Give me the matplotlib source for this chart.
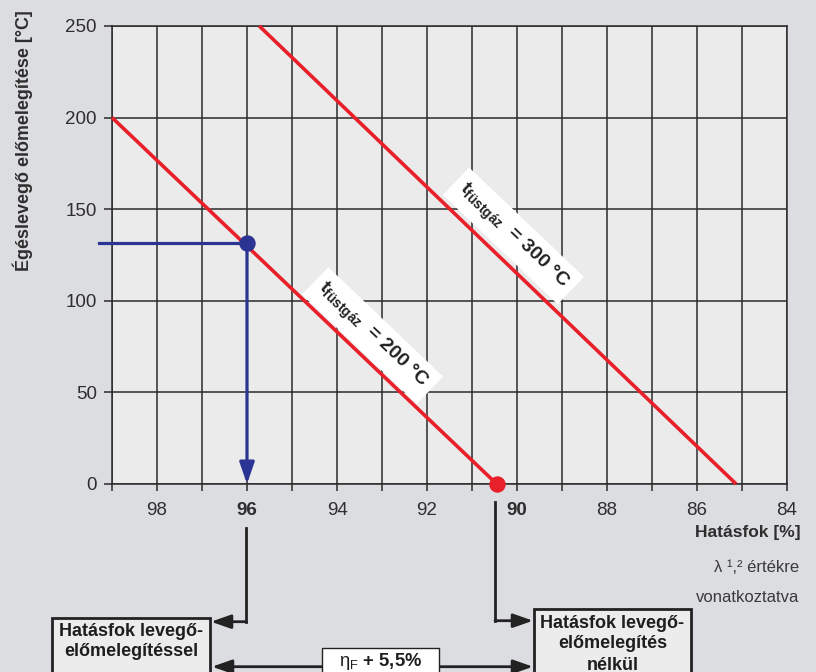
import math
import matplotlib
matplotlib.use("Agg")
import matplotlib.pyplot as plt
from matplotlib import font_manager as fm
from matplotlib.patches import Rectangle, FancyArrowPatch
from matplotlib.lines import Line2D

# ---------------- data ----------------
x_ticks = list(range(84, 100))
x_tick_labels = [str(v) if v % 2 == 0 else "" for v in x_ticks]
bold_x_ticks = ["96", "90"]
y_ticks = [0, 50, 100, 150, 200, 250]

line200_x = [99.0, 90.45]
line200_y = [200.0, 0.0]
line300_x = [95.73, 85.13]
line300_y = [250.0, 0.0]

blue_h_x = [99.3, 96.0]
blue_h_y = [131.6, 131.6]
point_with_x = [96.0]
point_with_y = [131.6]
point_without_x = [90.45]
point_without_y = [0.0]

label200_pos = (93.21, 81.0)
label300_pos = (90.08, 135.4)
label200_text = r"$\mathbf{t}_{\mathbf{füstgáz}}$  = 200 °C"
label300_text = r"$\mathbf{t}_{\mathbf{füstgáz}}$  = 300 °C"

ylabel_text = "Égéslevegő előmelegítése [°C]"
xlabel_text = "Hatásfok [%]"
note_lines = ["λ ¹,² értékre", "vonatkoztatva"]
box_left_lines = ["Hatásfok levegő-", "előmelegítéssel"]
box_right_lines = ["Hatásfok levegő-", "előmelegítés", "nélkül"]
box_mid_text = r"$\mathrm{η}_{\mathrm{F}}$ + 5,5%"

# ---------------- style ----------------
names = {f.name for f in fm.fontManager.ttflist}
SANS = "Liberation Sans" if "Liberation Sans" in names else "DejaVu Sans"
NARROW = "Liberation Sans Narrow" if "Liberation Sans Narrow" in names else SANS
plt.rcParams["font.family"] = [SANS, "DejaVu Sans"]
plt.rcParams["mathtext.fontset"] = "custom"
plt.rcParams["mathtext.rm"] = SANS
plt.rcParams["mathtext.bf"] = SANS + ":bold"
plt.rcParams["mathtext.it"] = SANS + ":italic"
plt.rcParams["mathtext.sf"] = SANS

FIG_BG = "#dcdde0"
AX_BG = "#ebebeb"
GRID = "#2b2b2b"
RED = "#e8202a"
BLUE = "#2c3493"
TXT = "#2e2e2e"
W, H = 816, 672

fig = plt.figure(figsize=(W / 100, H / 100), dpi=100, facecolor=FIG_BG)


def P(x, y):
    return (x / W, 1 - y / H)


ax = fig.add_axes([112 / W, 1 - 484 / H, 675 / W, 458.1 / H])
ax.set_facecolor(AX_BG)
ax.set_xlim(99, 84)
ax.set_ylim(0, 250)
ax.set_xticks(x_ticks)
ax.set_xticklabels(x_tick_labels)
ax.set_yticks(y_ticks)
ax.grid(True, color=GRID, lw=1.1)
for s in ax.spines.values():
    s.set_color(GRID)
    s.set_linewidth(1.1)
ax.tick_params(axis="x", direction="out", length=5, width=1.1, color=GRID,
               pad=8, labelsize=13.5, labelcolor=TXT)
ax.tick_params(axis="y", direction="out", length=6, width=1.1, color=GRID,
               pad=5, labelsize=13.5, labelcolor=TXT)
for t in ax.get_xticklabels():
    if t.get_text() in bold_x_ticks:
        t.set_fontweight("bold")

# red lines
ax.plot(line200_x, line200_y, color=RED, lw=2.6, solid_capstyle="butt", clip_on=False, zorder=3)
ax.plot(line300_x, line300_y, color=RED, lw=2.6, solid_capstyle="butt", clip_on=False, zorder=3)

# blue construction
ax.plot(blue_h_x, blue_h_y, color=BLUE, lw=2.3, clip_on=False, zorder=4)
ax.annotate("", xy=(point_with_x[0], 0), xytext=(point_with_x[0], point_with_y[0]),
            arrowprops=dict(arrowstyle="-|>,head_length=1.3,head_width=0.45",
                            mutation_scale=10, color=BLUE, lw=2.3,
                            shrinkA=0, shrinkB=0), zorder=4)
ax.plot(point_with_x, point_with_y, "o", ms=10.8, color=BLUE, zorder=5, clip_on=False)
ax.plot(point_without_x, point_without_y, "o", ms=10.8, color=RED, zorder=5, clip_on=False)

# rotated labels
p1 = ax.transData.transform((line200_x[0], line200_y[0]))
p2 = ax.transData.transform((line200_x[1], line200_y[1]))
angle = math.degrees(math.atan2(p2[1] - p1[1], p2[0] - p1[0]))
for pos, txt in [(label200_pos, label200_text), (label300_pos, label300_text)]:
    ax.text(pos[0], pos[1], txt, rotation=angle, rotation_mode="anchor",
            ha="center", va="center", fontsize=14, fontweight="bold", color="#222222",
            bbox=dict(boxstyle="square,pad=0.38", fc="white", ec="none"), zorder=6)

# axis texts
fig.text(*P(23, 141), ylabel_text, rotation=90, ha="center", va="center",
         fontsize=12.9, fontweight="bold", color=TXT)
fig.text(*P(801, 533), xlabel_text, ha="right", va="center",
         fontsize=12.5, fontweight="bold", color=TXT)
fig.text(*P(799, 568), note_lines[0], ha="right", va="center", fontsize=12, color="#3a3a3a")
fig.text(*P(799, 597), note_lines[1], ha="right", va="center", fontsize=12, color="#3a3a3a")

# bottom flow diagram
LINE = "#222222"


def fline(xs, ys, lw=2.0):
    fig.add_artist(Line2D([x / W for x in xs], [1 - y / H for y in ys],
                          transform=fig.transFigure, color=LINE, lw=lw,
                          solid_capstyle="projecting", solid_joinstyle="miter"))


def farrow(a, b, style="-|>"):
    fig.add_artist(FancyArrowPatch(P(*a), P(*b), transform=fig.transFigure,
                                   arrowstyle=style + ",head_length=1.2,head_width=0.42",
                                   mutation_scale=10, color=LINE, lw=2.0,
                                   shrinkA=0, shrinkB=0))


fline([246.5, 246.5], [528, 621.7])
farrow((246.5, 621.7), (211, 621.7))
fline([495, 495], [502, 620.7])
farrow((495, 620.7), (533, 620.7))
farrow((212, 666.7), (533, 666.7), style="<|-|>")


def fbox(x0, y0, x1, fc, lw):
    fig.add_artist(Rectangle(P(x0, 700), (x1 - x0) / W, (700 - y0) / H,
                             transform=fig.transFigure, fc=fc, ec=LINE, lw=lw,
                             clip_on=False))


fbox(52.3, 618.3, 210, "#ececec", 2.0)
fbox(534.3, 609.3, 691, "#ececec", 2.0)
fbox(321.7, 648.3, 439.3, "white", 1.0)

for txt, yy in zip(box_left_lines, [631, 652]):
    fig.text(*P(131, yy), txt, ha="center", va="center", fontsize=13,
             fontweight="bold", family=[NARROW, SANS], color="#1e1e1e")
for txt, yy in zip(box_right_lines, [623, 644, 665]):
    fig.text(*P(612.5, yy), txt, ha="center", va="center", fontsize=13,
             fontweight="bold", family=[NARROW, SANS], color="#1e1e1e")
fig.text(*P(380.5, 662), box_mid_text, ha="center", va="center", fontsize=13.2,
         fontweight="bold", family=[NARROW, SANS], color="#1e1e1e")

fig.savefig("out.png", dpi=100, facecolor=FIG_BG)
